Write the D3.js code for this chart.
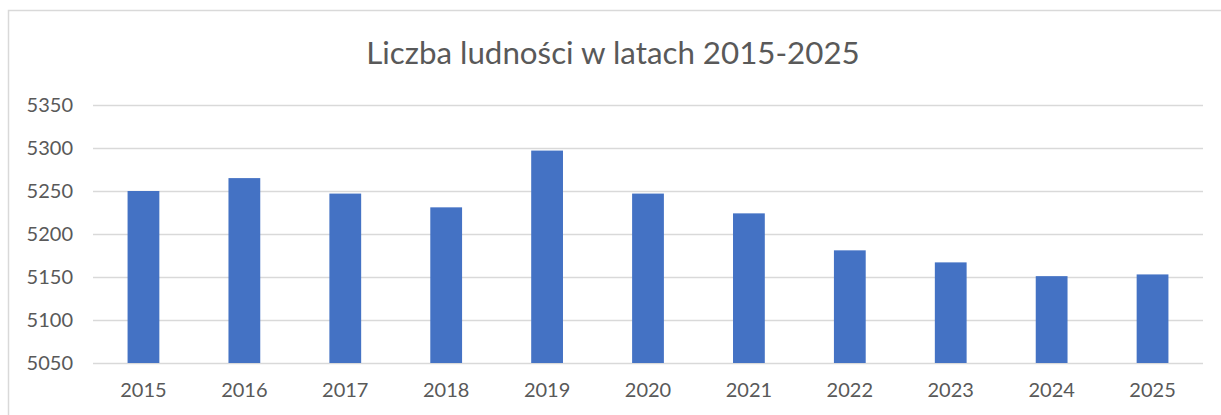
<!DOCTYPE html>
<html>
<head>
<meta charset="utf-8">
<script src="https://cdn.jsdelivr.net/npm/d3@7"></script>
<style>
	body { margin: 0; background: #fff; }
	svg { display: block; }
</style>
</head>
<body>
<svg id="chart"></svg>
<script>
	// data
	var years = ["2015","2016","2017","2018","2019","2020","2021","2022","2023","2024","2025"];
	var population = [5250, 5265, 5247, 5231, 5297, 5247, 5224, 5181, 5167, 5151, 5153];
	var yTicks = [5050, 5100, 5150, 5200, 5250, 5300, 5350];
	var title = "Liczba ludności w latach 2015-2025";

	var W = 1221, H = 415;
	var m = {top: 105, right: 18, bottom: 52, left: 93};

	var svg = d3.select("#chart")
		.attr("width", W)
		.attr("height", H);

	// chart area frame
	svg.append("rect")
		.attr("x", 8.5)
		.attr("y", 10.5)
		.attr("width", W)
		.attr("height", H)
		.attr("fill", "#fff")
		.attr("stroke", "#d9d9d9")
		.attr("stroke-width", 1.5);

	var x = d3.scaleBand()
		.domain(years)
		.range([m.left, W - m.right])
		.paddingInner(0.685)
		.paddingOuter(0.3425);

	var y = d3.scaleLinear()
		.domain([5050, 5350])
		.range([H - m.bottom, m.top]);

	// gridlines
	var yAxis = d3.axisLeft(y)
		.tickValues(yTicks)
		.tickSize(-(W - m.right - m.left))
		.tickPadding(20)
		.tickFormat(d3.format("d"));

	var gy = svg.append("g")
		.attr("transform", "translate(" + m.left + ",0)")
		.call(yAxis);
	gy.select(".domain").remove();
	gy.selectAll(".tick line")
		.attr("stroke", "#d9d9d9")
		.attr("stroke-width", 1.5);
	gy.selectAll(".tick text")
		.attr("fill", "#595959")
		.style("font-family", "Lato, sans-serif")
		.style("font-size", "20px");

	// bars
	svg.append("g").selectAll("rect")
		.data(population)
		.enter()
		.append("rect")
		.attr("x", function(d, i) { return x(years[i]); })
		.attr("y", function(d) { return y(d); })
		.attr("width", x.bandwidth())
		.attr("height", function(d) { return y(5050) - y(d); })
		.attr("fill", "#4472c4");

	// x axis labels
	var gx = svg.append("g")
		.attr("transform", "translate(0," + (H - m.bottom) + ")")
		.call(d3.axisBottom(x).tickSize(0).tickPadding(20));
	gx.select(".domain").remove();
	gx.selectAll(".tick text")
		.attr("fill", "#595959")
		.style("font-family", "Lato, sans-serif")
		.style("font-size", "20px");

	// title
	svg.append("text")
		.attr("x", 613)
		.attr("y", 64)
		.attr("text-anchor", "middle")
		.attr("fill", "#595959")
		.style("font-family", "Lato, sans-serif")
		.style("font-size", "31.3px")
		.text(title);
</script>
</body>
</html>
